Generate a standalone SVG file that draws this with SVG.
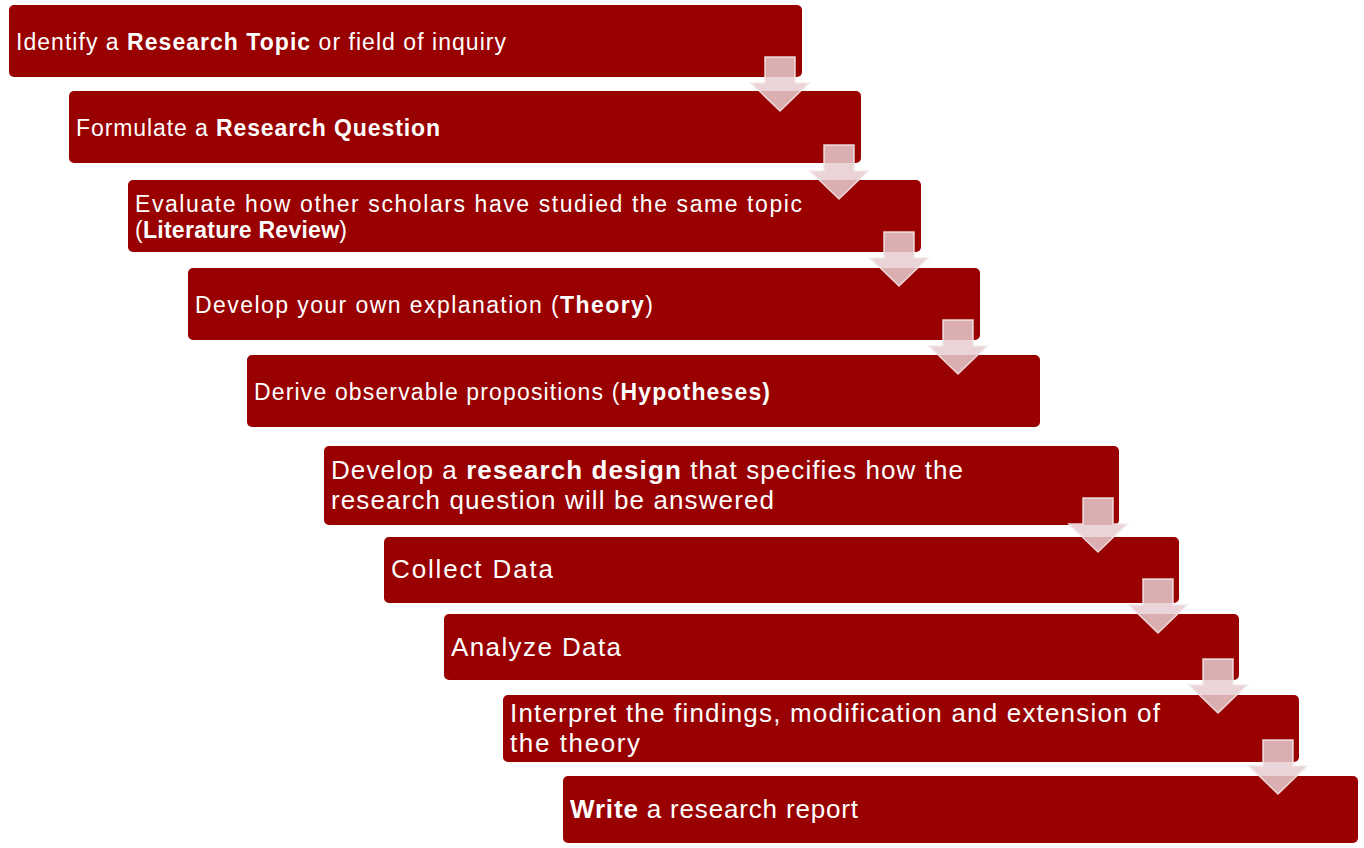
<svg xmlns="http://www.w3.org/2000/svg" width="1364" height="848" viewBox="0 0 1364 848">
<defs>
<style>
.box{fill:#990000;}
.t{font-family:"Liberation Sans","DejaVu Sans",sans-serif;font-size:23px;fill:#ffffff;}
.l{font-size:26px;}
.b{font-weight:bold;}
.arr{fill:#e6cdd0;fill-opacity:0.85;stroke:#f2e6e7;stroke-width:1.5;stroke-opacity:0.9;}
</style>
<symbol id="arrow" overflow="visible">
<path d="M-15,0 H15 V26 H29 L0,54 L-29,26 H-15 Z"/>
</symbol>
</defs>
<rect width="1364" height="848" fill="#ffffff"/>
<g id="node1"><rect class="box" x="9" y="5" width="793" height="72" rx="5"/>
<text class="t" x="16" y="50" textLength="490">Identify a <tspan class="b">Research Topic</tspan> or field of inquiry</text></g>
<g id="node2"><rect class="box" x="69" y="91" width="792" height="72" rx="5"/>
<text class="t" x="76" y="136" textLength="364">Formulate a <tspan class="b">Research Question</tspan></text></g>
<g id="node3"><rect class="box" x="128" y="180" width="793" height="72" rx="5"/>
<text class="t" x="135" y="212" textLength="667">Evaluate how other scholars have studied the same topic</text>
<text class="t" x="135" y="238" textLength="212">(<tspan class="b">Literature Review</tspan>)</text></g>
<g id="node4"><rect class="box" x="188" y="268" width="792" height="72" rx="5"/>
<text class="t" x="195" y="313" textLength="458">Develop your own explanation (<tspan class="b">Theory</tspan>)</text></g>
<g id="node5"><rect class="box" x="247" y="355" width="793" height="72" rx="5"/>
<text class="t" x="254" y="400" textLength="516">Derive observable propositions (<tspan class="b">Hypotheses)</tspan></text></g>
<g id="node6"><rect class="box" x="324" y="446" width="795" height="79" rx="5"/>
<text class="t l" x="331" y="479" textLength="632">Develop a <tspan class="b">research design</tspan> that specifies  how the</text>
<text class="t l" x="331" y="509" textLength="443">research question will be answered</text></g>
<g id="node7"><rect class="box" x="384" y="537" width="795" height="66" rx="5"/>
<text class="t l" x="391" y="578" textLength="162">Collect Data</text></g>
<g id="node8"><rect class="box" x="444" y="614" width="795" height="66" rx="5"/>
<text class="t l" x="451" y="656" textLength="170">Analyze Data</text></g>
<g id="node9"><rect class="box" x="503" y="695" width="796" height="67" rx="5"/>
<text class="t l" x="510" y="722" textLength="650">Interpret the findings, modification and extension of</text>
<text class="t l" x="510" y="752" textLength="130">the theory</text></g>
<g id="node10"><rect class="box" x="563" y="776" width="795" height="67" rx="5"/>
<text class="t l" x="570" y="818" textLength="288"><tspan class="b">Write</tspan> a research report</text></g>
<g id="connectors" class="arr">
<use href="#arrow" x="780" y="57"/>
<use href="#arrow" x="839" y="145"/>
<use href="#arrow" x="899" y="232"/>
<use href="#arrow" x="958" y="320"/>
<use href="#arrow" x="1098" y="498"/>
<use href="#arrow" x="1158" y="579"/>
<use href="#arrow" x="1218" y="659"/>
<use href="#arrow" x="1278" y="740"/>
</g>
</svg>
